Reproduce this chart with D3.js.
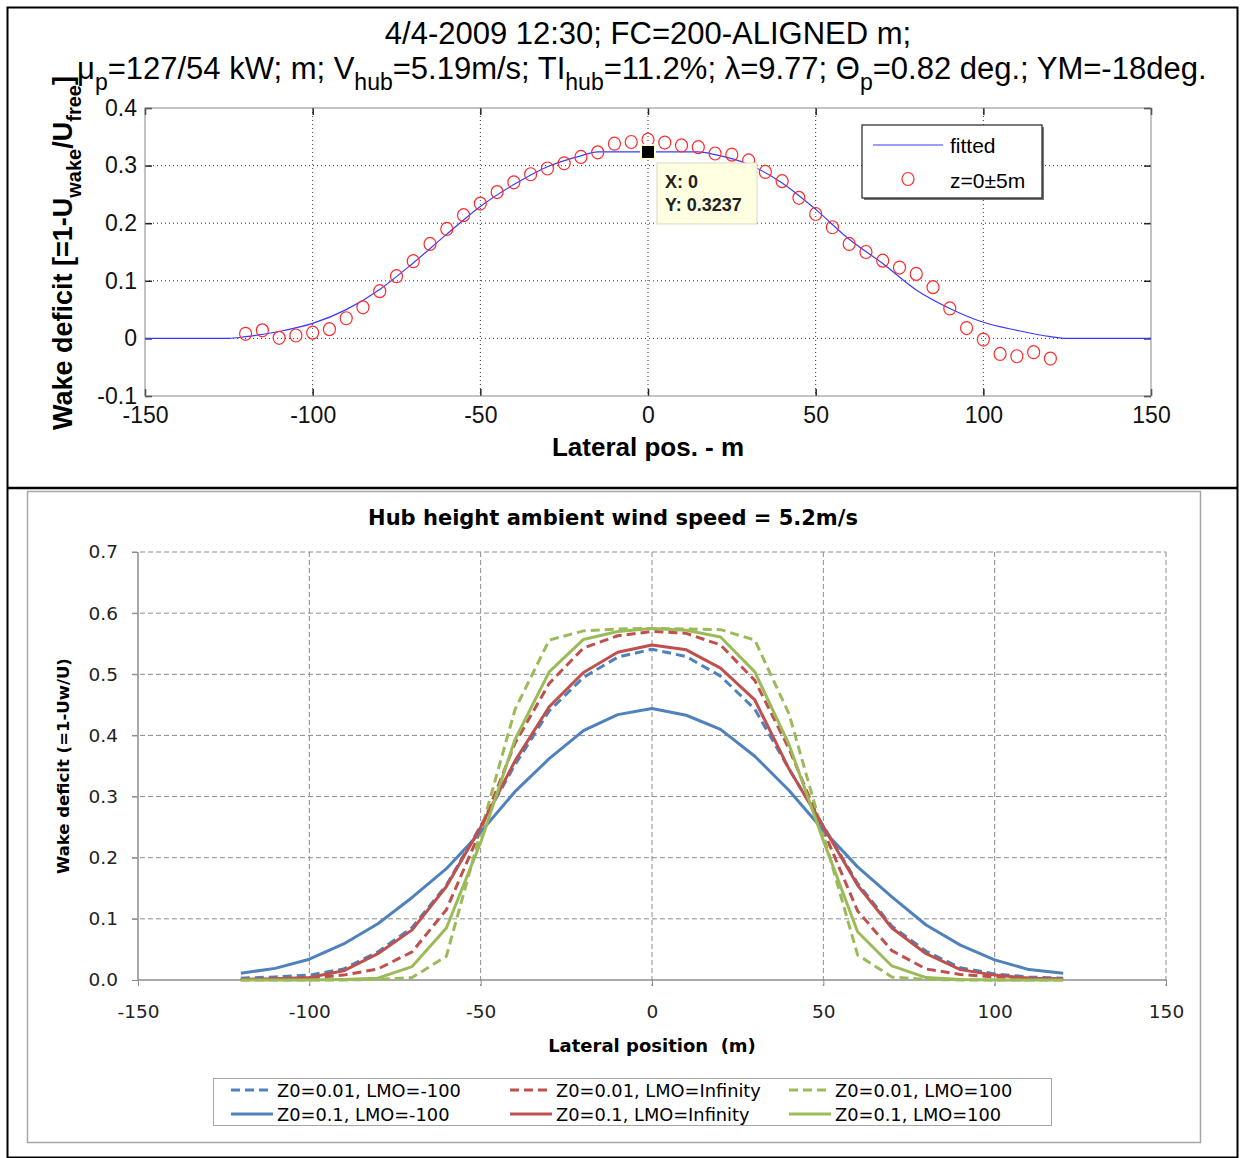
<!DOCTYPE html>
<html>
<head>
<meta charset="utf-8">
<script src="https://cdn.jsdelivr.net/npm/d3@7"></script>
<style>
  body { margin: 0; background: white; }
  svg { display: block; }
</style>
</head>
<body>
<div id="chart"></div>
<script>
// ---- top panel: measured wake profile (MATLAB style) ----
const top_x_ticks = [-150, -100, -50, 0, 50, 100, 150];
const top_y_ticks = [-0.1, 0, 0.1, 0.2, 0.3, 0.4];

const fitted_pos = [-150, -125, -120, -110, -100, -90, -80, -70, -60, -50, -40, -30, -20, -15, 0,
  15, 20, 30, 40, 50, 60, 70, 80, 90, 100, 110, 120, 125, 150];
const fitted_deficit = [0, 0, 0.003, 0.012, 0.026, 0.050, 0.085, 0.131, 0.181, 0.229, 0.267, 0.298, 0.317, 0.3237, 0.3237,
  0.3237, 0.319, 0.302, 0.270, 0.224, 0.172, 0.130, 0.084, 0.052, 0.028, 0.014, 0.003, 0, 0];

const measured_pos = [-120, -115, -110, -105, -100, -95, -90, -85, -80, -75, -70, -65, -60, -55, -50, -45, -40,
  -35, -30, -25, -20, -15, -10, -5, 0, 5, 10, 15, 20, 25, 30, 35, 40, 45, 50, 55, 60, 65, 70, 75, 80,
  85, 90, 95, 100, 105, 110, 115, 120];
const measured_deficit = [0.008, 0.014, 0.001, 0.005, 0.010, 0.016, 0.035, 0.054, 0.082, 0.108, 0.134, 0.164, 0.190,
  0.214, 0.234, 0.254, 0.271, 0.285, 0.295, 0.304, 0.315, 0.323, 0.338, 0.341, 0.345, 0.340, 0.335, 0.332, 0.321,
  0.319, 0.309, 0.289, 0.273, 0.244, 0.216, 0.193, 0.164, 0.150, 0.135, 0.123, 0.112, 0.089, 0.052, 0.018, -0.002,
  -0.027, -0.031, -0.024, -0.035];

const tip_x = 0;
const tip_y = 0.3237;

// ---- bottom panel: modelled profiles (Excel style) ----
const bottom_x_ticks = [-150, -100, -50, 0, 50, 100, 150];
const bottom_y_ticks = [0, 0.1, 0.2, 0.3, 0.4, 0.5, 0.6, 0.7];
const lateral_pos = [-120, -110, -100, -90, -80, -70, -60, -50, -40, -30, -20, -10, 0,
  10, 20, 30, 40, 50, 60, 70, 80, 90, 100, 110, 120];

const z001_lmo_m100 = [0.003, 0.005, 0.008, 0.018, 0.046, 0.086, 0.155, 0.252, 0.352, 0.440, 0.495, 0.528, 0.541,
  0.529, 0.497, 0.443, 0.345, 0.252, 0.158, 0.088, 0.047, 0.020, 0.010, 0.005, 0.003];
const z001_lmo_inf = [0.001, 0.002, 0.003, 0.008, 0.018, 0.046, 0.115, 0.245, 0.387, 0.485, 0.543, 0.563, 0.570,
  0.567, 0.548, 0.490, 0.378, 0.245, 0.113, 0.048, 0.018, 0.009, 0.005, 0.003, 0.001];
const z001_lmo_100 = [0, 0, 0, 0, 0.001, 0.004, 0.039, 0.242, 0.442, 0.556, 0.571, 0.574, 0.575,
  0.574, 0.573, 0.556, 0.435, 0.238, 0.041, 0.005, 0.001, 0, 0, 0, 0];
const z01_lmo_m100 = [0.011, 0.019, 0.034, 0.059, 0.092, 0.135, 0.182, 0.242, 0.308, 0.362, 0.408, 0.434, 0.444,
  0.433, 0.410, 0.366, 0.310, 0.245, 0.185, 0.136, 0.090, 0.057, 0.033, 0.017, 0.011];
const z01_lmo_inf = [0.001, 0.002, 0.004, 0.015, 0.043, 0.082, 0.153, 0.250, 0.358, 0.447, 0.503, 0.536, 0.548,
  0.540, 0.510, 0.458, 0.345, 0.251, 0.155, 0.085, 0.043, 0.017, 0.008, 0.003, 0.002];
const z01_lmo_100 = [0, 0, 0, 0.001, 0.003, 0.022, 0.085, 0.225, 0.393, 0.504, 0.557, 0.570, 0.575,
  0.572, 0.561, 0.504, 0.385, 0.228, 0.079, 0.023, 0.004, 0.001, 0, 0, 0];

const series_names = ["Z0=0.01, LMO=-100", "Z0=0.01, LMO=Infinity", "Z0=0.01, LMO=100",
  "Z0=0.1, LMO=-100", "Z0=0.1, LMO=Infinity", "Z0=0.1, LMO=100"];
const series_values = [z001_lmo_m100, z001_lmo_inf, z001_lmo_100, z01_lmo_m100, z01_lmo_inf, z01_lmo_100];
const series_colors = ["#4f81bd", "#c0504d", "#9bbb59", "#4f81bd", "#c0504d", "#9bbb59"];
const series_dashed = [true, true, true, false, false, false];

const svg = d3.select("#chart")
  .append("svg")
  .attr("width", 1240)
  .attr("height", 1158)
;

svg.append("rect")
  .attr("width", "100%")
  .attr("height", "100%")
  .attr("fill", "white")
;

// outer black frame + separator
svg.append("rect")
  .attr("x", 7.5).attr("y", 7.5)
  .attr("width", 1230).attr("height", 1150)
  .attr("fill", "none")
  .attr("stroke", "black")
  .attr("stroke-width", 2)
;
svg.append("line")
  .attr("x1", 7).attr("x2", 1238)
  .attr("y1", 488).attr("y2", 488)
  .attr("stroke", "black")
  .attr("stroke-width", 2.5)
;

// =================== TOP PANEL ===================
const tx = d3.scaleLinear().domain([-150, 150]).range([145, 1151]);
const ty = d3.scaleLinear().domain([-0.1, 0.4]).range([396, 108]);

const top_g = svg.append("g")
  .attr("font-family", "'Liberation Sans', Arial, sans-serif")
;

top_g.append("rect")
  .attr("x", tx(-150)).attr("y", ty(0.4))
  .attr("width", tx(150) - tx(-150)).attr("height", ty(-0.1) - ty(0.4))
  .attr("fill", "white")
;

// dotted grid
top_g.append("g")
  .selectAll("line")
  .data(top_x_ticks.slice(1, -1))
  .join("line")
  .attr("x1", d => tx(d)).attr("x2", d => tx(d))
  .attr("y1", ty(0.4)).attr("y2", ty(-0.1))
  .attr("stroke", "#333")
  .attr("stroke-width", 1)
  .attr("stroke-dasharray", "1,3")
;
top_g.append("g")
  .selectAll("line")
  .data(top_y_ticks.slice(1, -1))
  .join("line")
  .attr("x1", tx(-150)).attr("x2", tx(150))
  .attr("y1", d => ty(d)).attr("y2", d => ty(d))
  .attr("stroke", "#333")
  .attr("stroke-width", 1)
  .attr("stroke-dasharray", "1,3")
;

// axes (ticks pointing inward)
const fmt_plain = d => String(d);

top_g.append("g")
  .attr("transform", "translate(0," + ty(-0.1) + ")")
  .call(d3.axisBottom(tx).tickValues(top_x_ticks).tickSize(-7).tickPadding(11).tickFormat(fmt_plain))
  .call(g => g.select(".domain").remove())
  .call(g => g.selectAll("text").attr("font-size", 23).attr("fill", "#111"))
  .call(g => g.attr("font-family", null).attr("font-size", null))
;
top_g.append("g")
  .attr("transform", "translate(0," + ty(0.4) + ")")
  .call(d3.axisTop(tx).tickValues(top_x_ticks).tickSize(-7).tickFormat(""))
  .call(g => g.select(".domain").remove())
;
top_g.append("g")
  .attr("transform", "translate(" + tx(-150) + ",0)")
  .call(d3.axisLeft(ty).tickValues(top_y_ticks).tickSize(-7).tickPadding(8).tickFormat(fmt_plain))
  .call(g => g.select(".domain").remove())
  .call(g => g.selectAll("text").attr("font-size", 23).attr("fill", "#111"))
  .call(g => g.attr("font-family", null).attr("font-size", null))
;
top_g.append("g")
  .attr("transform", "translate(" + tx(150) + ",0)")
  .call(d3.axisRight(ty).tickValues(top_y_ticks).tickSize(-7).tickFormat(""))
  .call(g => g.select(".domain").remove())
;
top_g.selectAll(".tick line").attr("stroke", "#222").attr("stroke-width", 1.5);

top_g.append("rect")
  .attr("x", tx(-150)).attr("y", ty(0.4))
  .attr("width", tx(150) - tx(-150)).attr("height", ty(-0.1) - ty(0.4))
  .attr("fill", "none")
  .attr("stroke", "#888")
  .attr("stroke-width", 1)
;

// fitted curve
const fitted = fitted_pos.map((p, i) => ({pos: p, val: fitted_deficit[i]}));
top_g.append("path")
  .datum(fitted)
  .attr("fill", "none")
  .attr("stroke", "#3a3aff")
  .attr("stroke-width", 1.2)
  .attr("d", d3.line().x(d => tx(d.pos)).y(d => ty(d.val)).curve(d3.curveMonotoneX))
;

// measured points
const measured = measured_pos.map((p, i) => ({pos: p, val: measured_deficit[i]}));
top_g.append("g")
  .selectAll("ellipse")
  .data(measured)
  .join("ellipse")
  .attr("cx", d => tx(d.pos))
  .attr("cy", d => ty(d.val))
  .attr("rx", 6).attr("ry", 6.5)
  .attr("fill", "none")
  .attr("stroke", "#ff2a2a")
  .attr("stroke-width", 1.2)
;

// data tip
top_g.append("rect")
  .attr("x", tx(tip_x) - 8).attr("y", ty(tip_y) - 8)
  .attr("width", 16).attr("height", 16)
  .attr("fill", "#ffffd8")
;
top_g.append("rect")
  .attr("x", tx(tip_x) - 6).attr("y", ty(tip_y) - 6)
  .attr("width", 12).attr("height", 12)
  .attr("fill", "black")
;
const tip = top_g.append("g")
  .attr("transform", "translate(" + (tx(tip_x) + 9) + "," + (ty(tip_y) + 11) + ")")
;
tip.append("rect")
  .attr("width", 100).attr("height", 61)
  .attr("fill", "#ffffe1")
  .attr("stroke", "#d8d8c0")
;
tip.append("text")
  .attr("x", 8).attr("y", 25)
  .attr("font-size", 18).attr("font-weight", "bold").attr("fill", "#222")
  .text("X: " + tip_x)
;
tip.append("text")
  .attr("x", 8).attr("y", 48)
  .attr("font-size", 18).attr("font-weight", "bold").attr("fill", "#222")
  .text("Y: " + tip_y)
;

// legend
const tleg = top_g.append("g").attr("transform", "translate(862,125)");
tleg.append("rect")
  .attr("x", 2).attr("y", 2)
  .attr("width", 180).attr("height", 73)
  .attr("fill", "#777")
;
tleg.append("rect")
  .attr("width", 180).attr("height", 73)
  .attr("fill", "white")
  .attr("stroke", "#222")
  .attr("stroke-width", 1.2)
;
tleg.append("line")
  .attr("x1", 11).attr("x2", 81)
  .attr("y1", 20).attr("y2", 20)
  .attr("stroke", "#3a3aff")
  .attr("stroke-width", 1.2)
;
tleg.append("text").attr("x", 88).attr("y", 28).attr("font-size", 21).text("fitted");
tleg.append("ellipse")
  .attr("cx", 46).attr("cy", 54)
  .attr("rx", 6).attr("ry", 6.5)
  .attr("fill", "none").attr("stroke", "#ff2a2a").attr("stroke-width", 1.2)
;
tleg.append("text").attr("x", 88).attr("y", 63).attr("font-size", 21).text("z=0±5m");

// titles
top_g.append("text")
  .attr("x", 648).attr("y", 44)
  .attr("text-anchor", "middle")
  .attr("font-size", 31)
  .text("4/4-2009 12:30; FC=200-ALIGNED m;")
;

const t2 = top_g.append("text")
  .attr("x", 77).attr("y", 79)
  .attr("font-size", 31)
;
const title2_parts = [
  ["μ", 0], ["p", 1], ["=127/54 kW; m; V", 0], ["hub", 1], ["=5.19m/s; TI", 0], ["hub", 1],
  ["=11.2%; λ=9.77; Θ", 0], ["p", 1], ["=0.82 deg.; YM=-18deg.", 0]
];
let prev_sub = 0;
title2_parts.forEach(([s, sub]) => {
  t2.append("tspan")
    .attr("dy", sub === prev_sub ? 0 : (sub ? 11 : -11))
    .attr("font-size", sub ? 23 : 31)
    .text(s)
  ;
  prev_sub = sub;
});

top_g.append("text")
  .attr("x", 648).attr("y", 456)
  .attr("text-anchor", "middle")
  .attr("font-size", 26)
  .attr("font-weight", "bold")
  .text("Lateral pos. - m")
;

const ylab = top_g.append("text")
  .attr("transform", "translate(72,430) rotate(-90)")
  .attr("font-size", 27)
  .attr("font-weight", "bold")
;
[["Wake deficit [=1-U", 0], ["wake", 1], ["/U", 0], ["free", 1], ["]", 0]].forEach(([s, sub], i, arr) => {
  const prev = i ? arr[i - 1][1] : 0;
  ylab.append("tspan")
    .attr("dy", sub === prev ? 0 : (sub ? 9 : -9))
    .attr("font-size", sub ? 20 : 27)
    .text(s)
  ;
});

// =================== BOTTOM PANEL ===================
const bx = d3.scaleLinear().domain([-150, 150]).range([138, 1166]);
const by = d3.scaleLinear().domain([0, 0.7]).range([980, 552]);

const bottom_g = svg.append("g")
  .attr("font-family", "'DejaVu Sans', Verdana, sans-serif")
;

bottom_g.append("rect")
  .attr("x", 27.5).attr("y", 491.5)
  .attr("width", 1173).attr("height", 651)
  .attr("fill", "white")
  .attr("stroke", "#a6a6a6")
  .attr("stroke-width", 1.5)
;

// dashed grid
bottom_g.append("g")
  .selectAll("line")
  .data(bottom_y_ticks.slice(1))
  .join("line")
  .attr("x1", bx(-150) - 6).attr("x2", bx(150))
  .attr("y1", d => by(d)).attr("y2", d => by(d))
  .attr("stroke", "#8c8c8c")
  .attr("stroke-dasharray", "5,3")
;
bottom_g.append("g")
  .selectAll("line")
  .data(bottom_x_ticks.slice(1))
  .join("line")
  .attr("x1", d => bx(d)).attr("x2", d => bx(d))
  .attr("y1", by(0.7)).attr("y2", by(0) + 6)
  .attr("stroke", "#8c8c8c")
  .attr("stroke-dasharray", "5,3")
;

bottom_g.append("g")
  .attr("transform", "translate(0," + by(0) + ")")
  .call(d3.axisBottom(bx).tickValues(bottom_x_ticks).tickSize(6).tickPadding(19).tickFormat(fmt_plain))
  .call(g => g.select(".domain").attr("d", "M" + bx(-150) + ",0H" + bx(150)))
  .call(g => g.selectAll(".tick line").attr("stroke", "#8c8c8c"))
  .call(g => g.selectAll("text").attr("font-size", 18.5).attr("fill", "#222"))
  .call(g => g.attr("font-family", null).attr("font-size", null))
;
bottom_g.append("g")
  .attr("transform", "translate(" + bx(-150) + ",0)")
  .call(d3.axisLeft(by).tickValues(bottom_y_ticks).tickSize(6).tickPadding(14).tickFormat(d3.format(".1f")))
  .call(g => g.select(".domain").attr("d", "M0," + by(0.7) + "V" + by(0)))
  .call(g => g.selectAll(".tick line").attr("stroke", "#8c8c8c"))
  .call(g => g.selectAll("text").attr("font-size", 18.5).attr("fill", "#222"))
  .call(g => g.attr("font-family", null).attr("font-size", null))
;
bottom_g.selectAll(".domain").attr("stroke", "#8c8c8c").attr("stroke-width", 1.5);

// curves
const series = series_names.map((name, i) => ({
  name: name,
  color: series_colors[i],
  dashed: series_dashed[i],
  points: lateral_pos.map((p, j) => ({pos: p, val: series_values[i][j]}))
}));

const bline = d3.line().x(d => bx(d.pos)).y(d => by(d.val));

bottom_g.append("g")
  .selectAll("path")
  .data(series)
  .join("path")
  .attr("fill", "none")
  .attr("stroke", d => d.color)
  .attr("stroke-width", 3)
  .attr("stroke-dasharray", d => d.dashed ? "9,5" : null)
  .attr("stroke-linejoin", "round")
  .attr("d", d => bline(d.points))
;

bottom_g.append("text")
  .attr("x", 613).attr("y", 525)
  .attr("text-anchor", "middle")
  .attr("font-size", 21)
  .attr("font-weight", "bold")
  .text("Hub height ambient wind speed = 5.2m/s")
;
bottom_g.append("text")
  .attr("x", 652).attr("y", 1052)
  .attr("text-anchor", "middle")
  .attr("font-size", 18)
  .attr("font-weight", "bold")
  .style("white-space", "pre")
  .text("Lateral position  (m)")
;
bottom_g.append("text")
  .attr("transform", "translate(69,766) rotate(-90)")
  .attr("text-anchor", "middle")
  .attr("font-size", 16.5)
  .attr("font-weight", "bold")
  .text("Wake deficit (=1-Uw/U)")
;

// legend
const bleg = bottom_g.append("g").attr("transform", "translate(213,1078)");
bleg.append("rect")
  .attr("x", 0.5).attr("y", 0.5)
  .attr("width", 838).attr("height", 47)
  .attr("fill", "white")
  .attr("stroke", "#a6a6a6")
;
const bleg_items = bleg.selectAll("g.item")
  .data(series)
  .join("g")
  .attr("class", "item")
  .attr("transform", (d, i) => "translate(" + (18 + (i % 3) * 279) + "," + (12 + Math.floor(i / 3) * 24) + ")")
;
bleg_items.append("line")
  .attr("x1", 0).attr("x2", 42)
  .attr("y1", 0).attr("y2", 0)
  .attr("stroke", d => d.color)
  .attr("stroke-width", 3)
  .attr("stroke-dasharray", d => d.dashed ? "9,5" : null)
;
bleg_items.append("text")
  .attr("x", 46).attr("y", 6.5)
  .attr("font-size", 17.8)
  .text(d => d.name)
;
</script>
</body>
</html>
